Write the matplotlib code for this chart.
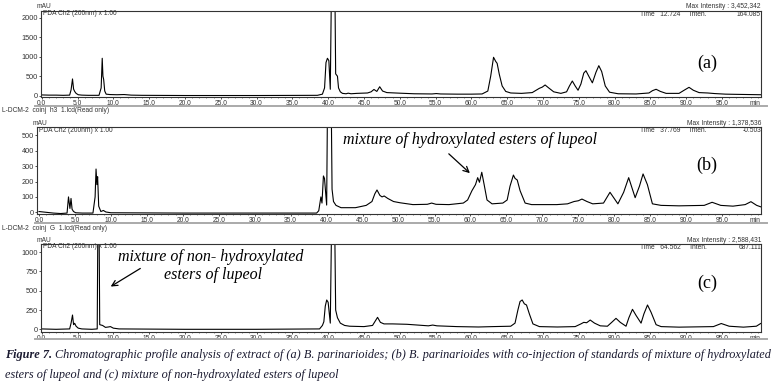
import matplotlib
matplotlib.use('Agg')
import matplotlib.pyplot as plt
from matplotlib.lines import Line2D

W, H = 784, 383

# retention time (min) / intensity (mAU) points
time_a = [0, 1, 2, 3, 3.9, 4.1, 4.3, 4.45, 4.6, 4.8, 5.1, 5.6, 6.5, 8.0, 8.3, 8.45, 8.55, 8.65,
          8.8, 9.0, 9.5, 10.5, 11.5, 12.5, 14, 20, 30, 38.5, 39.2, 39.5, 39.7, 39.9, 40.1, 40.3,
          40.45, 40.6, 40.8, 40.95, 41.05, 41.3, 41.45, 41.7, 42.0, 42.5, 42.8, 43.2, 44, 45.5,
          46.0, 46.4, 46.8, 47.2, 47.6, 48.2, 50, 52, 54.5, 55.1, 55.7, 58, 60, 61.5, 62.3, 62.7,
          63.1, 63.4, 63.6, 63.9, 64.3, 64.8, 65.5, 67, 68.5, 69.5, 69.9, 70.3, 70.8, 71.5, 72.5,
          73.3, 73.7, 74.1, 74.5, 74.9, 75.3, 75.7, 76.0, 76.4, 76.9, 77.4, 77.8, 78.2, 78.7,
          79.3, 80.5, 83, 84.8, 85.3, 85.8, 86.4, 87.2, 89, 89.8, 90.4, 91.0, 91.8, 93, 94, 95.5,
          97, 100.4]
mau_a = [20, 15, 15, 10, 15, 150, 430, 170, 110, 60, 25, 15, 10, 10, 200, 960, 500, 420,
         120, 40, 30, 25, 30, 15, 10, 5, 5, 10, 40, 200, 850, 960, 900, 165,
         2600, 2600, 2600, 2600, 560, 500, 200, 100, 60, 50, 65, 50, 60, 70,
         100, 160, 110, 230, 120, 80, 65, 50, 45, 55, 45, 40, 40, 45, 120, 500,
         985, 880, 830, 550, 250, 110, 70, 60, 80, 190, 220, 275, 200, 100, 60,
         100, 250, 377, 250, 140, 300, 580, 641, 500, 330, 600, 770, 620, 250,
         90, 50, 45, 70, 130, 165, 110, 60, 60, 150, 215, 140, 80, 70, 55, 40,
         35, 25]

time_b = [0, 1, 2, 3, 3.9, 4.1, 4.3, 4.45, 4.6, 4.8, 5.1, 6, 7.5, 7.8, 7.93, 8.05, 8.15, 8.3,
          8.6, 8.95, 9.3, 10, 20, 30, 38.6, 38.9, 39.2, 39.35, 39.55, 39.7, 40.0, 40.15, 40.6,
          40.75, 40.95, 41.3, 42, 44, 45.5, 46.3, 46.7, 47.0, 47.4, 47.7, 48.0, 48.5, 49.3,
          50.2, 52, 54, 54.6, 55.2, 57, 59, 59.6, 60.2, 60.7, 61.0, 61.25, 61.57, 61.9, 62.3,
          63, 64.5, 65.1, 65.5, 65.97, 66.2, 66.5, 66.9, 67.6, 68.5, 70, 72, 73.5, 74.4, 75.0,
          75.5, 76.2, 77, 78.5, 79.4, 80.5, 81.3, 82.0, 82.9, 83.5, 84.0, 84.6, 85.3, 86.5, 89,
          92.5, 93.6, 94.8, 96.5, 98.2, 99.0, 99.8, 100.4]
mau_b = [5, 0, -5, -8, -5, 100, 25, 90, 20, 5, -3, -5, -5, 100, 281, 180, 231, 40,
         5, 12, 2, -3, -5, -5, -5, 10, 100, 60, 236, 220, 47, 900, 900,
         150, 70, 45, 30, 30, 45, 70, 120, 145, 110, 100, 106, 90, 70,
         62, 50, 52, 60, 52, 50, 60, 80, 140, 180, 225, 195, 260, 180, 80,
         55, 60, 80, 170, 242, 220, 210, 140, 60, 50, 50, 50, 55, 70, 75,
         86, 70, 55, 60, 130, 55, 130, 225, 95, 170, 249, 180, 55, 45, 42,
         45, 65, 45, 40, 50, 69, 45, 35]

time_c = [0, 2, 3.9, 4.1, 4.3, 4.45, 4.6, 4.8, 5.1, 5.6, 7.0, 7.75, 7.85, 8.0, 8.1, 8.5, 8.9,
          9.3, 9.6, 10, 10.8, 20, 30, 38.8, 39.2, 39.4, 39.6, 39.8, 40.0, 40.3, 40.5, 40.9,
          41.05, 41.3, 41.7, 42.3, 43, 45, 46.2, 46.6, 46.9, 47.3, 47.8, 49, 51, 54, 54.6,
          55.2, 58, 61, 63, 65.5, 66.1, 66.5, 66.8, 67.1, 67.4, 67.7, 68.1, 68.6, 69.5, 72,
          74.5, 75.3, 75.7, 76.1, 76.6, 77.2, 78.0, 79.0, 79.6, 80.2, 80.8, 81.6, 82.0, 82.5,
          83.0, 83.7, 84.1, 84.6, 85.1, 85.8, 86.5, 89, 93.8, 94.9, 96, 98, 99.8, 100.4]
mau_c = [5, 0, 5, 80, 185, 60, 78, 40, 15, 5, 0, 5, 1500, 1500, 60, 50, 25,
         30, 35, 15, 5, 0, 0, 5, 50, 98, 300, 380, 350, 80, 1500, 1500,
         250, 150, 80, 50, 40, 35, 50, 110, 155, 90, 70, 70, 65, 45, 55,
         45, 35, 30, 35, 40, 80, 250, 360, 380, 330, 315, 200, 70, 35, 30,
         35, 70, 90, 85, 120, 80, 45, 40, 90, 142, 90, 40, 150, 259,
         180, 80, 200, 315, 220, 60, 35, 28, 35, 75, 40, 28, 40, 75]

x_ticks = [0, 5, 10, 15, 20, 25, 30, 35, 40, 45, 50, 55, 60, 65, 70, 75, 80, 85, 90, 95]
y_ticks_a = [0, 500, 1000, 1500, 2000]
y_ticks_b = [0, 100, 200, 300, 400, 500]
y_ticks_c = [0, 250, 500, 750, 1000]

file_names = ['L-DCM-2  coinj  h3  1.lcd(Read only)', 'L-DCM-2  coinj  G  1.lcd(Read only)']
max_int = ['3,452,342', '1,378,536', '2,588,431']
time_lbl = ['12.724', '37.769', '64.562']
inten_lbl = ['164.085', '-0.503', '687.111']
panel_lbl = ['(a)', '(b)', '(c)']


def fx(x):
    return x / W


def fy(y):
    return 1 - y / H


fig = plt.figure(figsize=(W / 100, H / 100), dpi=100)
fig.patch.set_facecolor('white')

small = dict(family='Liberation Sans', fontsize=4.8, color='#333333')
ysmall = dict(family='Liberation Sans', fontsize=5.3, color='#333333')


def panel(box, t, v, xlim, ylim, yticks):
    left, top, right, bottom = box
    ax = fig.add_axes([fx(left), fy(bottom), (right - left) / W, (bottom - top) / H])
    ax.plot(t, v, color='black', lw=0.8)
    ax.set_xlim(xlim)
    ax.set_ylim(ylim)
    ax.set_xticks(x_ticks)
    ax.set_xticklabels([f'{x:.1f}' for x in x_ticks], **small)
    ax.set_xticks(range(0, 101), minor=True)
    ax.set_yticks(yticks)
    ax.set_yticklabels([str(y) for y in yticks], **ysmall)
    ax.tick_params(axis='both', which='major', direction='out', length=1.6, width=0.6,
                   pad=0.6, color='#333333')
    ax.tick_params(axis='x', which='minor', direction='out', length=1.0, width=0.5,
                   color='#555555')
    for s in ax.spines.values():
        s.set_linewidth(0.8)
        s.set_color('#333333')
    ax.annotate('min', xy=(99.6, 0), xycoords=ax.get_xaxis_transform(), xytext=(0, -2.2),
                textcoords='offset points', ha='center', va='top', **small)
    return ax


ax_a = panel((41, 10.7, 761, 97), time_a, mau_a, (-0.1, 100.45), (-33, 2180), y_ticks_a)
ax_b = panel((37, 127.3, 761, 214), time_b, mau_b, (-0.28, 100.4), (-11, 552), y_ticks_b)
ax_c = panel((41, 244, 761, 331.7), time_c, mau_c, (-0.1, 100.45), (-31, 1105), y_ticks_c)

# header texts of every chromatogram
tops = [10.7, 127.3, 244]
lefts = [41, 37, 41]
for i in range(3):
    top = tops[i]
    fig.text(fx(lefts[i] - 4), fy(top - 4), 'mAU', ha='left', va='center', **small)
    fig.text(fx(lefts[i] + 2), fy(top + 3), 'PDA Ch2 (200nm) x 1.00', ha='left', va='center',
             **small)
    fig.text(fx(761), fy(top - 4), 'Max Intensity : ' + max_int[i], ha='right', va='center',
             **small)
    fig.text(fx(640), fy(top + 3.5), 'Time   ' + time_lbl[i] + '     Inten.', ha='left',
             va='center', **small)
    fig.text(fx(761), fy(top + 3.5), inten_lbl[i], ha='right', va='center', **small)

for i, y in enumerate([63, 165, 283]):
    fig.text(fx(707), fy(y), panel_lbl[i], ha='center', va='center',
             family='Liberation Serif', fontsize=13)

# grey separators and file names
for y in [106, 223, 339]:
    fig.add_artist(Line2D([fx(35), fx(767)], [fy(y), fy(y)], color='#aaaaaa', lw=1.4))
fig.text(fx(2), fy(110), file_names[0], ha='left', va='center', **small)
fig.text(fx(2), fy(228), file_names[1], ha='left', va='center', **small)

note = dict(family='Liberation Serif', style='italic', fontsize=11.5, color='black')
ax_b.annotate('', xy=(60.2, 242), xytext=(56.7, 392),
              arrowprops=dict(arrowstyle='->', color='black', lw=0.9))
fig.text(fx(343), fy(140), 'mixture of hydroxylated esters of lupeol', ha='left', va='center',
         **note)
ax_c.annotate('', xy=(9.3, 535), xytext=(14.1, 807),
              arrowprops=dict(arrowstyle='->', color='black', lw=0.9))
fig.text(fx(211), fy(257), 'mixture of non- hydroxylated', ha='center', va='center', **note)
fig.text(fx(213), fy(275), 'esters of lupeol', ha='center', va='center', **note)

# caption
cap = dict(family='Liberation Serif', style='italic', fontsize=8.84, color='#1a1a30')
t0 = fig.text(fx(5), fy(355), 'Figure 7.', ha='left', va='center', weight='bold', **cap)
fig.canvas.draw()
bb = t0.get_window_extent(fig.canvas.get_renderer())
fig.text(bb.x1 / W + 3 / W, fy(355),
         'Chromatographic profile analysis of extract of (a) B. parinarioides; '
         '(b) B. parinarioides with co-injection of standards of mixture of hydroxylated',
         ha='left', va='center', **cap)
fig.text(fx(5), fy(375), 'esters of lupeol and (c) mixture of non-hydroxylated esters of lupeol',
         ha='left', va='center', **cap)

fig.savefig('out.png', dpi=100, facecolor='white')
